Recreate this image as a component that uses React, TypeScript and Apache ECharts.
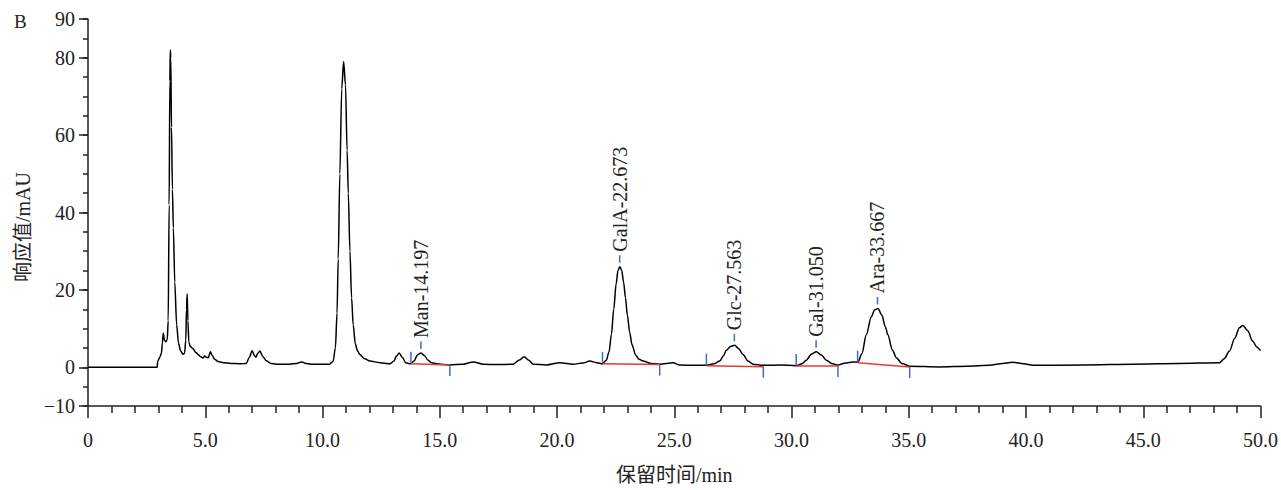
import React, { useEffect, useRef } from "react";
import * as echarts from "echarts";

// ---- data ----
const retentionTime = [
  0, 2.95, 2.97, 3.06, 3.13, 3.17, 3.21, 3.26, 3.32, 3.38, 3.42, 3.46, 3.49, 3.51, 3.53, 3.56, 3.6, 3.64, 3.7, 3.78,
  3.86, 3.95, 4.05, 4.12, 4.17, 4.2, 4.23, 4.26, 4.3, 4.36, 4.48, 4.6, 4.7, 4.8, 4.9, 4.97, 5.05, 5.13, 5.22, 5.3,
  5.4, 5.55, 5.77, 6.1, 6.48, 6.75, 6.88, 7.0, 7.1, 7.16, 7.24, 7.33, 7.45, 7.62, 7.8, 8.04, 8.6, 8.9, 9.1, 9.3,
  9.5, 10.3, 10.45, 10.55, 10.62, 10.67, 10.74, 10.82, 10.9, 10.98, 11.05, 11.1, 11.17, 11.24, 11.31, 11.4, 11.5,
  11.59, 11.8, 12.02, 12.45, 12.87, 13.05, 13.15, 13.27, 13.4, 13.55, 13.75, 13.9, 14.05, 14.2, 14.35, 14.5, 14.65,
  14.9, 15.2, 15.43, 16.0, 16.43, 16.85, 17.5, 18.13, 18.4, 18.6, 18.8, 18.98, 19.55, 20.12, 20.69, 21.1, 21.4,
  21.7, 21.94, 22.1, 22.22, 22.32, 22.42, 22.52, 22.6, 22.68, 22.76, 22.84, 22.92, 23.0, 23.1, 23.2, 23.35, 23.5,
  23.67, 24.0, 24.38, 24.95, 25.23, 25.8, 26.37, 26.7, 26.94, 27.1, 27.22, 27.4, 27.58, 27.75, 27.93, 28.15, 28.36,
  28.79, 29.5, 30.2, 30.45, 30.63, 30.85, 31.06, 31.27, 31.49, 31.75, 31.98, 32.3, 32.62, 32.84, 33.0, 33.19, 33.4,
  33.55, 33.69, 33.85, 34.0, 34.11, 34.3, 34.47, 34.7, 35.04, 36.3, 37.5, 38.45, 38.9, 39.44, 39.9, 40.3, 42.5,
  44.56, 46.5, 48.25, 48.45, 48.68, 48.9, 49.1, 49.25, 49.45, 49.67, 49.85, 50.0,
];
const response = [
  0, 0, 1.5, 2.6, 3.6, 6.2, 8.8, 7.0, 6.6, 7.2, 12, 42, 74, 82, 80, 62, 46, 36, 22, 11,
  6.2, 4.2, 3.4, 3.6, 7, 15, 19, 12, 6.5, 5.4, 4.8, 3.8, 3.3, 2.7, 2.4, 2.9, 2.6, 2.5, 4.0, 3.0,
  2.1, 1.5, 1.2, 1.0, 0.9, 1.0, 2.6, 4.3, 3.0, 2.6, 3.6, 4.2, 2.8, 1.6, 1.0, 0.8, 0.8, 1.0, 1.4, 1.0,
  0.8, 0.8, 1.5, 5, 14, 28, 50, 72, 79, 73, 56, 45, 30, 18, 10.9, 6, 4.2,
  3.3, 2.2, 1.6, 1.2, 0.9, 1.6, 2.9, 3.7, 2.6, 1.2, 0.9, 1.6, 3.2, 3.7, 3.0, 1.8, 1.2,
  0.9, 0.7, 0.6, 0.8, 1.4, 0.8, 0.7, 0.8, 1.9, 2.7, 1.8, 0.8, 0.6, 1.2, 0.8, 1.1, 1.6,
  1.2, 0.9, 1.8, 4.0, 8.5, 15, 21.5, 25, 26, 25, 22, 18, 13.5, 9, 5.8, 3.2, 2.1,
  1.6, 1.0, 0.8, 1.2, 0.6, 0.5, 0.5, 0.9, 1.6, 3.0, 4.4, 5.4, 5.7, 4.8, 3.3, 1.6, 0.8,
  0.5, 0.6, 0.4, 0.9, 1.8, 3.4, 4.0, 3.2, 1.8, 0.9, 0.6, 1.1, 1.4, 1.4, 3.5, 8.4, 13,
  14.9, 15.2, 13.5, 10.5, 8.4, 4.5, 2.5, 1.0, 0.3, 0.1, 0.3, 0.5, 0.9, 1.3, 0.9, 0.5, 0.6,
  0.8, 1.0, 1.2, 2.2, 4.2, 7.5, 10.2, 10.8, 9.5, 6.7, 5.2, 4.3,
];

// identified peaks
const peakNames = ["Man", "GalA", "Glc", "Gal", "Ara"];
const peakTimes = [14.197, 22.673, 27.563, 31.05, 33.667];
const peakApex = [3.7, 26.0, 5.7, 4.0, 15.2];

// integration baselines
const intStartTime = [13.77, 21.94, 26.37, 30.2, 32.82];
const intStartValue = [0.9, 0.9, 0.4, 0.35, 1.2];
const intEndTime = [15.43, 24.38, 28.8, 31.98, 35.04];
const intEndValue = [0.6, 0.7, 0.15, 0.35, 0.1];

// axes
const yMajorTicks = [-10, 0, 20, 40, 60, 80, 90];

const FONT = '"Liberation Serif", "Times New Roman", "Noto Sans CJK SC", serif';
const TEXT = "#222";
const AXIS = "#222";
const BLUE = "#3d6cc0";
const RED = "#e8392f";

export default function App() {
  const ref = useRef<HTMLDivElement>(null);
  useEffect(() => {
    document.body.style.margin = "0";
    const chart = echarts.init(ref.current!, null, { renderer: "svg" });
    const trace = retentionTime.map((t, i) => [t, response[i]]);
    const peaks = peakTimes.map((t, i) => [t, peakApex[i]]);
    const ints = intStartTime.map((t, i) => [t, intStartValue[i], intEndTime[i], intEndValue[i]]);

    const option: any = {
      animation: false,
      grid: { left: 88, right: 20, top: 19, bottom: 78, containLabel: false },
      xAxis: {
        type: "value",
        min: 0,
        max: 50,
        interval: 5,
        name: "保留时间/min",
        nameLocation: "middle",
        nameGap: 59,
        nameTextStyle: { fontFamily: FONT, fontSize: 20, color: TEXT },
        axisLine: { show: true, onZero: false, lineStyle: { color: AXIS, width: 1.5 } },
        axisTick: { show: true, length: 12, lineStyle: { color: AXIS, width: 1.5 } },
        minorTick: { show: true, splitNumber: 5, length: 7, lineStyle: { color: AXIS, width: 1.5 } },
        axisLabel: {
          margin: 24,
          fontFamily: FONT,
          fontSize: 20,
          color: TEXT,
          formatter: (v: number) => (v === 0 ? "0" : v.toFixed(1)),
        },
        splitLine: { show: false },
        minorSplitLine: { show: false },
      },
      yAxis: [
        {
          type: "value",
          min: -10,
          max: 90,
          interval: 10,
          position: "left",
          axisLine: { show: true, onZero: false, lineStyle: { color: AXIS, width: 1.5 } },
          axisTick: { show: true, length: 9, customValues: yMajorTicks, lineStyle: { color: AXIS, width: 1.5 } },
          axisLabel: {
            customValues: yMajorTicks,
            margin: 13,
            fontFamily: FONT,
            fontSize: 20,
            color: TEXT,
            formatter: (v: number) => (v < 0 ? "\u2212" + Math.abs(v) : String(v)),
          },
          splitLine: { show: false },
        },
        {
          type: "value",
          min: -10,
          max: 90,
          interval: 5,
          position: "left",
          axisLine: { show: false },
          axisTick: { show: true, length: 5, lineStyle: { color: AXIS, width: 1.5 } },
          axisLabel: { show: false },
          splitLine: { show: false },
        },
      ],
      graphic: [
        {
          type: "text",
          left: 14,
          top: 12,
          style: { text: "B", font: `19px ${FONT}`, fill: TEXT },
        },
        {
          type: "text",
          x: 23,
          y: 227,
          rotation: Math.PI / 2,
          style: {
            text: "响应值/mAU",
            font: `20px ${FONT}`,
            fill: TEXT,
            align: "center",
            verticalAlign: "middle",
          },
        },
      ],
      series: [
        {
          type: "line",
          data: trace,
          yAxisIndex: 0,
          showSymbol: false,
          symbol: "none",
          smooth: 0.3,
          smoothMonotone: "x",
          lineStyle: { color: "#000", width: 1.5 },
          z: 3,
        },
        {
          type: "custom",
          yAxisIndex: 0,
          data: ints,
          z: 4,
          renderItem: (params: any, api: any) => {
            const s = api.coord([api.value(0), api.value(1)]);
            const e = api.coord([api.value(2), api.value(3)]);
            return {
              type: "group",
              children: [
                {
                  type: "line",
                  shape: { x1: s[0], y1: s[1], x2: e[0], y2: e[1] },
                  style: { stroke: RED, lineWidth: 1.5 },
                },
                {
                  type: "line",
                  shape: { x1: s[0], y1: s[1] - 1, x2: s[0], y2: s[1] - 12 },
                  style: { stroke: BLUE, lineWidth: 1.5 },
                },
                {
                  type: "line",
                  shape: { x1: e[0], y1: e[1], x2: e[0], y2: e[1] + 11 },
                  style: { stroke: BLUE, lineWidth: 1.5 },
                },
              ],
            };
          },
        },
        {
          type: "custom",
          yAxisIndex: 0,
          data: peaks,
          z: 5,
          renderItem: (params: any, api: any) => {
            const i = params.dataIndex;
            const p = api.coord([api.value(0), api.value(1)]);
            return {
              type: "group",
              children: [
                {
                  type: "line",
                  shape: { x1: p[0], y1: p[1] - 4, x2: p[0], y2: p[1] - 11.5 },
                  style: { stroke: BLUE, lineWidth: 1.5 },
                },
                {
                  type: "text",
                  x: p[0],
                  y: p[1] - 15,
                  rotation: Math.PI / 2,
                  style: {
                    text: `${peakNames[i]}-${peakTimes[i].toFixed(3)}`,
                    font: `20px ${FONT}`,
                    fill: TEXT,
                    align: "left",
                    verticalAlign: "middle",
                  },
                },
              ],
            };
          },
        },
      ],
    };
    chart.setOption(option);
    return () => chart.dispose();
  }, []);
  return <div ref={ref} style={{ width: 1281, height: 490 }} />;
}
